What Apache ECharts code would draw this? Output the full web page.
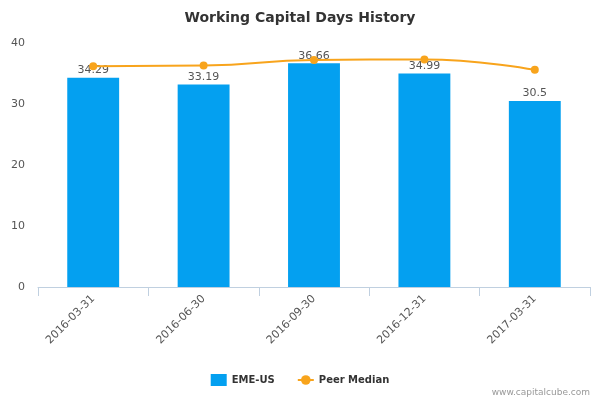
<!DOCTYPE html>
<html>
<head>
<meta charset="utf-8">
<script src="https://cdn.jsdelivr.net/npm/echarts@6/dist/echarts.min.js"></script>
<style>
  html, body { margin: 0; padding: 0; background: #fff; }
  #chart { width: 600px; height: 400px; }
</style>
</head>
<body>
<div id="chart"></div>
<script>
var categories = ['2016-03-31', '2016-06-30', '2016-09-30', '2016-12-31', '2017-03-31'];
var emeValues = [34.29, 33.19, 36.66, 34.99, 30.5];
var peerValues = [36.2, 36.3, 37.2, 37.3, 35.6];
var yTicks = [0, 10, 20, 30, 40];

var chart = echarts.init(document.getElementById('chart'));
var option = {
    backgroundColor: '#fff',
    animation: false,
    title: {
        text: 'Working Capital Days History',
        left: 'center',
        top: 6,
        textStyle: {
            fontFamily: 'DejaVu Sans',
            fontSize: 14,
            fontWeight: 'bold',
            color: '#333'
        }
    },
    graphic: [{
        type: 'text',
        right: 10,
        bottom: 3,
        style: {
            text: 'www.capitalcube.com',
            fill: '#999',
            font: '9px DejaVu Sans'
        }
    }],
    legend: {
        bottom: 9,
        left: 'center',
        itemGap: 22,
        itemWidth: 16,
        itemHeight: 12,
        textStyle: {
            fontFamily: 'DejaVu Sans',
            fontSize: 10,
            fontWeight: 'bold',
            color: '#333'
        },
        data: [
            {name: 'EME-US', icon: 'rect'},
            {name: 'Peer Median'}
        ]
    },
    grid: {
        left: 38,
        right: 10,
        top: 43,
        bottom: 113
    },
    xAxis: {
        type: 'category',
        data: categories,
        axisLine: {lineStyle: {color: '#c0d0e0'}},
        axisTick: {show: true, length: 9, lineStyle: {color: '#c0d0e0'}},
        axisLabel: {
            rotate: 45,
            margin: 10,
            fontFamily: 'DejaVu Sans',
            fontSize: 11,
            color: '#555'
        }
    },
    yAxis: {
        type: 'value',
        min: yTicks[0],
        max: yTicks[yTicks.length - 1],
        interval: 10,
        axisLine: {show: false},
        axisTick: {show: false},
        splitLine: {show: false},
        axisLabel: {
            margin: 13,
            fontFamily: 'DejaVu Sans',
            fontSize: 11,
            color: '#555'
        }
    },
    series: [
        {
            name: 'EME-US',
            type: 'bar',
            data: emeValues,
            barWidth: '47%',
            itemStyle: {color: '#04a0f0'},
            label: {
                show: true,
                position: 'top',
                distance: 2,
                fontFamily: 'DejaVu Sans',
                fontSize: 11,
                color: '#555'
            }
        },
        {
            name: 'Peer Median',
            type: 'line',
            data: peerValues,
            smooth: true,
            symbol: 'circle',
            symbolSize: 8,
            itemStyle: {color: '#f8a41c'},
            lineStyle: {color: '#f8a41c', width: 2}
        }
    ]
};
chart.setOption(option);
</script>
</body>
</html>
